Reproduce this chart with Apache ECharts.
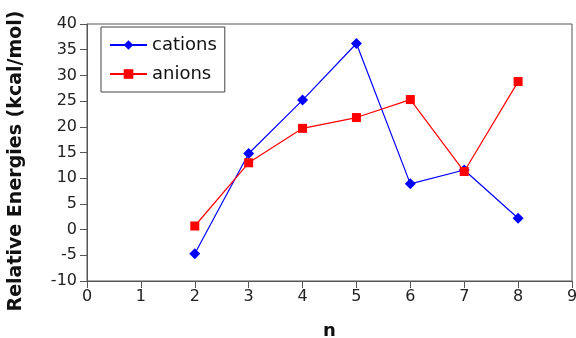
<!DOCTYPE html>
<html><head><meta charset="utf-8">
<script src="https://cdn.jsdelivr.net/npm/echarts@6/dist/echarts.min.js"></script>
<style>html,body{margin:0;padding:0;background:#fff}#c{width:576px;height:338px}</style>
</head><body><div id="c"></div>
<script>
var nValues = [2, 3, 4, 5, 6, 7, 8];
var cations = [-4.7, 14.8, 25.2, 36.2, 8.9, 11.6, 2.2];
var anions = [0.7, 13.0, 19.7, 21.8, 25.3, 11.3, 28.8];
var seriesNames = ['cations', 'anions'];

function pairs(xs, ys){ return xs.map(function(x,i){return [x, ys[i]];}); }

var chart = echarts.init(document.getElementById('c'));
var font = 'DejaVu Sans, sans-serif';
chart.setOption({
  animation: false,
  textStyle: {fontFamily: font},
  grid: {left: 87, right: 4, top: 24, bottom: 57, show: true, borderColor: '#555', borderWidth: 1,
         outerBoundsMode: 'none', containLabel: false},
  legend: {
    orient: 'vertical', left: 101, top: 27,
    data: seriesNames,
    itemWidth: 37, itemHeight: 12, itemGap: 11,
    padding: [9, 8, 9, 8],
    borderColor: '#444', borderWidth: 1,
    textStyle: {fontSize: 18, color: '#111', fontFamily: font}
  },
  xAxis: {
    type: 'value', min: 0, max: 9, interval: 1,
    name: 'n', nameLocation: 'middle', nameGap: 41,
    nameTextStyle: {fontSize: 18, fontWeight: 'bold', color: '#111'},
    axisLine: {onZero: false, lineStyle: {color: '#555'}},
    axisTick: {show: true, length: 7, lineStyle: {color: '#555'}},
    axisLabel: {fontSize: 16, color: '#222', margin: 8},
    splitLine: {show: false}
  },
  yAxis: {
    type: 'value', min: -10, max: 40, interval: 5,
    name: 'Relative Energies (kcal/mol)', nameLocation: 'middle', nameGap: 61,
    nameTextStyle: {fontSize: 19, fontWeight: 'bold', color: '#111', padding: [0, 17, 0, 0]},
    axisLine: {show: true, onZero: false, lineStyle: {color: '#555'}},
    axisTick: {show: true, length: 7, lineStyle: {color: '#555'}},
    axisLabel: {fontSize: 16, color: '#222', margin: 10},
    splitLine: {show: false}
  },
  series: [
    {name: seriesNames[0], type: 'line', data: pairs(nValues, cations),
     symbol: 'diamond', symbolSize: 11, itemStyle: {color: '#0000ff'},
     lineStyle: {color: '#0000ff', width: 1.2}},
    {name: seriesNames[1], type: 'line', data: pairs(nValues, anions),
     symbol: 'rect', symbolSize: 9, itemStyle: {color: '#ff0000'},
     lineStyle: {color: '#ff0000', width: 1.2}}
  ]
});
</script></body></html>
